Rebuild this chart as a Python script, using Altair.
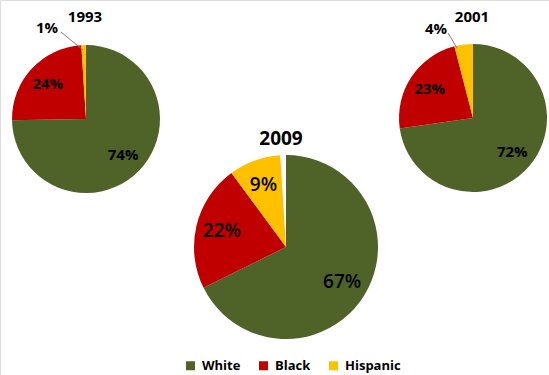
import altair as alt
import pandas as pd

years = ["1993", "2001", "2009"]
groups = ["White", "Black", "Hispanic"]
colors = ["#4F6228", "#C00000", "#FFC000"]
values_1993 = [74, 24, 1]
values_2001 = [72, 23, 4]
values_2009 = [67, 22, 9]

rows = []
for yr, vals in zip(years, [values_1993, values_2001, values_2009]):
    for i, (g, v) in enumerate(zip(groups, vals)):
        rows.append({"year": yr, "group": g, "value": v, "label": f"{v}%", "order": i})
df = pd.DataFrame(rows)

FONT = "Open Sans"
color_scale = alt.Scale(domain=groups, range=colors)


def pie(year, cx, cy, r, label_r, fs, fw, show_legend=False):
    legend = None
    if show_legend:
        legend = alt.Legend(
            title=None, orient="none", legendX=184, legendY=359,
            direction="horizontal", symbolType="square", symbolSize=81,
            symbolStrokeWidth=0, symbolOpacity=1, labelFont=FONT,
            labelFontSize=13, labelFontWeight="bold", labelColor="black",
            columnPadding=16, labelOffset=5,
        )
    base = alt.Chart(df).transform_filter(alt.datum.year == year).encode(
        theta=alt.Theta("value:Q", stack=True),
        order=alt.Order("order:Q"),
    )
    arc = base.mark_arc(outerRadius=r, stroke=None).encode(
        x=alt.value(cx), y=alt.value(cy),
        color=alt.Color("group:N", scale=color_scale, legend=legend,
                        sort=groups),
    )
    txt = base.transform_filter(alt.datum.value >= 5).mark_text(
        radius=label_r, fontSize=fs, fontWeight=fw, font=FONT, color="black"
    ).encode(x=alt.value(cx), y=alt.value(cy), text="label:N")
    return arc + txt


def label(text, x, y, fs, fw="bold"):
    return alt.Chart(pd.DataFrame({"t": [text]})).mark_text(
        font=FONT, fontSize=fs, fontWeight=fw, color="black"
    ).encode(x=alt.value(x), y=alt.value(y), text="t:N")


def leader(x1, y1, x2, y2):
    return alt.Chart(pd.DataFrame({"a": [0]})).mark_rule(
        color="#7f7f7f", strokeWidth=1
    ).encode(x=alt.value(x1), y=alt.value(y1), x2=alt.value(x2), y2=alt.value(y2))


small_1993 = f"{values_1993[2]}%"
small_2001 = f"{values_2001[2]}%"

chart = alt.layer(
    pie("1993", 86, 119, 74, 52, 15, "bold", show_legend=True),
    pie("2001", 473, 118, 74, 52, 15, "bold"),
    pie("2009", 286, 247, 92, 66, 19, 600),
    leader(61, 32, 83, 50),
    leader(448, 33, 457, 48),
    label(small_1993, 47, 28, 15),
    label(small_2001, 436, 29, 15),
    label(years[0], 85, 17, 15),
    label(years[1], 472, 17, 15),
    label(years[2], 281, 139, 19),
).properties(
    width=549, height=375, padding=0, autosize=alt.AutoSizeParams(type="none")
).configure_view(stroke=None).configure(background="white")

chart.save("out.html", embed_options={"renderer": "svg", "actions": False})
